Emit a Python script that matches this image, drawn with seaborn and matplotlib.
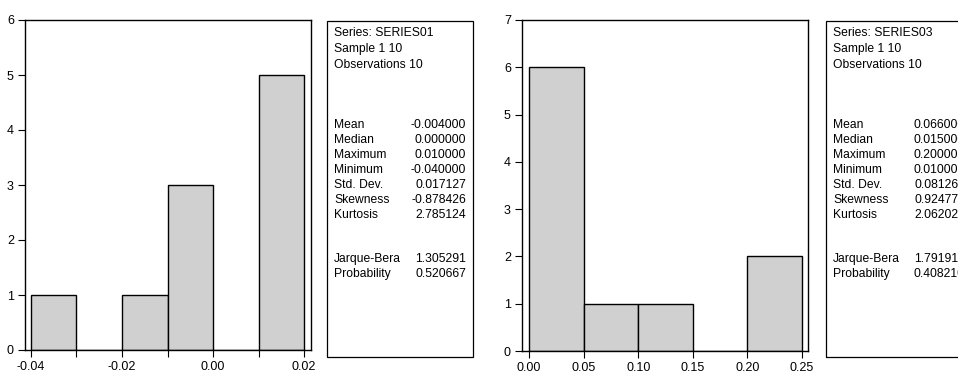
import matplotlib
matplotlib.use("Agg")
import matplotlib.pyplot as plt
import matplotlib.font_manager as fm
from matplotlib.patches import Rectangle
from matplotlib.ticker import FixedLocator, FormatStrFormatter
import seaborn as sns

# ---------------- data ----------------
s1_edges = [-0.04, -0.03, -0.02, -0.01, 0.00, 0.01, 0.02]
s1_counts = [1, 0, 1, 3, 0, 5]
s1_major = [-0.04, -0.02, 0.00, 0.02]
s1_minor = [-0.03, -0.01, 0.01]

s3_edges = [0.00, 0.05, 0.10, 0.15, 0.20, 0.25]
s3_counts = [6, 1, 1, 0, 2]
s3_major = [0.00, 0.05, 0.10, 0.15, 0.20, 0.25]

header1 = ["Series: SERIES01", "Sample 1 10", "Observations 10"]
header3 = ["Series: SERIES03", "Sample 1 10", "Observations 10"]
stat_names = ["Mean", "Median", "Maximum", "Minimum", "Std. Dev.", "Skewness", "Kurtosis"]
s1_stats = ["-0.004000", "0.000000", "0.010000", "-0.040000", "0.017127", "-0.878426", "2.785124"]
s3_stats = ["0.066000", "0.015000", "0.200000", "0.010000", "0.081264", "0.924772", "2.062022"]
test_names = ["Jarque-Bera", "Probability"]
s1_tests = ["1.305291", "0.520667"]
s3_tests = ["1.791914", "0.408210"]

# ---------------- style ----------------
sns.set_style("ticks")
avail = {f.name for f in fm.fontManager.ttflist}
fam = [f for f in ["Liberation Sans Narrow", "Liberation Sans", "DejaVu Sans"] if f in avail]
narrow = fam[0] == "Liberation Sans Narrow"
FS = 10 if narrow else 8.7
plt.rcParams["font.family"] = fam
plt.rcParams["font.size"] = FS
plt.rcParams["text.color"] = "black"
plt.rcParams["xtick.color"] = "black"
plt.rcParams["ytick.color"] = "black"
plt.rcParams["xtick.labelcolor"] = "black"
plt.rcParams["ytick.labelcolor"] = "black"

W, H = 958, 383
fig = plt.figure(figsize=(W / 100, H / 100), dpi=100)


def px_axes(x0, x1, y0, y1):
    return fig.add_axes([x0 / W, 1 - y1 / H, (x1 - x0) / W, (y1 - y0) / H])


def fx(x):
    return x / W


def fy(y):
    return 1 - y / H


def draw_hist(ax, edges, counts, major, minor, xlim, ylim):
    centers = [(a + b) / 2 for a, b in zip(edges[:-1], edges[1:])]
    sns.histplot(x=centers, weights=counts, bins=edges, ax=ax,
                 color="#d0d0d0", edgecolor="black", linewidth=1.0, alpha=1.0)
    ax.set_xlim(*xlim)
    ax.set_ylim(*ylim)
    ax.set_xlabel("")
    ax.set_ylabel("")
    ax.xaxis.set_major_locator(FixedLocator(major))
    if minor:
        ax.xaxis.set_minor_locator(FixedLocator(minor))
    ax.xaxis.set_major_formatter(FormatStrFormatter("%.2f"))
    ax.set_yticks(range(0, ylim[1] + 1))
    ax.tick_params(axis="both", which="both", direction="out", length=5,
                   width=0.8, color="black", labelcolor="black",
                   labelsize=FS + 0.3, pad=3)
    ax.tick_params(top=False, right=False)
    for sp in ax.spines.values():
        sp.set_visible(True)
        sp.set_color("black")
        sp.set_linewidth(1.0)
    ax.set_facecolor("white")


ax1 = px_axes(25, 311, 20, 350)
draw_hist(ax1, s1_edges, s1_counts, s1_major, s1_minor,
          (-0.0413, 0.0215), (0, 6))

ax2 = px_axes(522, 808, 20, 351)
draw_hist(ax2, s3_edges, s3_counts, s3_major, None,
          (-0.0064, 0.2555), (0, 7))


def stats_box(x0, x1, y0, y1, header, vals, tvals):
    fig.patches.append(Rectangle((fx(x0), fy(y1)), fx(x1) - fx(x0), fy(y0) - fy(y1),
                                 transform=fig.transFigure, fill=False,
                                 edgecolor="black", linewidth=0.9, clip_on=False))
    lx = x0 + 7
    rx = x0 + 139
    ys_head = [33, 49, 65]
    for t, y in zip(header, ys_head):
        fig.text(fx(lx), fy(y), t, ha="left", va="center", fontsize=FS, color="black")
    y = 125
    for n, v in zip(stat_names, vals):
        fig.text(fx(lx), fy(y), n, ha="left", va="center", fontsize=FS, color="black")
        fig.text(fx(rx), fy(y), v, ha="right", va="center", fontsize=FS, color="black")
        y += 15
    y = 259
    for n, v in zip(test_names, tvals):
        fig.text(fx(lx), fy(y), n, ha="left", va="center", fontsize=FS, color="black")
        fig.text(fx(rx), fy(y), v, ha="right", va="center", fontsize=FS, color="black")
        y += 15


stats_box(327, 473, 21, 357, header1, s1_stats, s1_tests)
stats_box(826, 972, 21, 357, header3, s3_stats, s3_tests)

fig.savefig("out.png", dpi=100, facecolor="white")
